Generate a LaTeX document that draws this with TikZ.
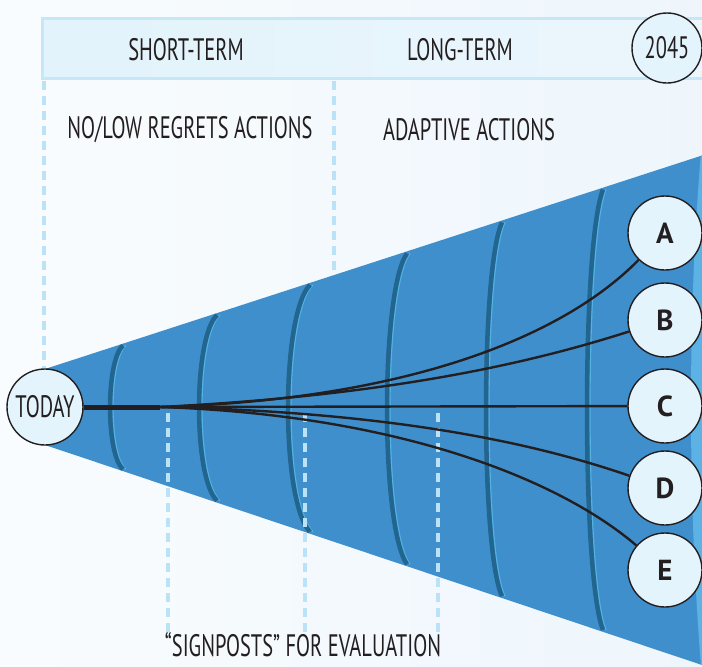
\documentclass[tikz,border=0pt]{standalone}
\usepackage{fontspec}
\setmainfont{PT Sans}[FakeStretch=0.66]
\newfontfamily\lettf{PT Sans}
\definecolor{bgL}{HTML}{F9FCFE}
\definecolor{bgR}{HTML}{EEF6FC}
\definecolor{hdrL}{HTML}{E2F3FB}
\definecolor{hdrR}{HTML}{ECF6FC}
\definecolor{hdrB}{HTML}{C6E7F8}
\definecolor{guidec}{HTML}{BCE2F7}
\definecolor{conec}{HTML}{3F8FCD}
\definecolor{conel}{HTML}{5CB2E4}
\definecolor{ringc}{HTML}{22658F}
\definecolor{ringh}{HTML}{52B3E3}
\definecolor{nodef}{HTML}{E4F4FC}
\definecolor{txt}{HTML}{231F20}
\tikzset{
  lbl/.style={text=txt, font=\fontsize{31}{36}\selectfont, inner sep=0pt},
  circ/.style={circle, draw=txt, line width=1.4pt, fill=nodef, minimum size=#1, inner sep=0pt, text=txt},
  letter/.style={circ=74pt, font=\lettf\bfseries\fontsize{29}{34}\selectfont},
  guide/.style={draw=guidec, line width=3.2pt, dash pattern=on 9pt off 6pt},
  ringline/.style={draw=ringc, line width=4.5pt},
  ringhl/.style={draw=ringh, line width=1.2pt},
  conn/.style={draw=txt, line width=2.4pt},
  bundle/.style={draw=txt, line width=5pt}
}
\begin{document}
\begin{tikzpicture}[x=1pt,y=-1pt]
\useasboundingbox (0,0) rectangle (702,667);
\shade[left color=bgL, right color=bgR] (0,0) rectangle (702,667);
% header bar
\shade[left color=hdrL, right color=hdrR] (42,18) rectangle (702,78);
\draw[hdrB, line width=3pt] (702,18) -- (42,18) -- (42,78) -- (702,78);
\node[lbl] (st) at (186,50) {SHORT-TERM};
\node[lbl] (lt) at (460,50) {LONG-TERM};
\node[circ=70pt, font=\fontsize{31}{36}\selectfont] (y2045) at (667,48) {2045};
\node[lbl] (noreg) at (190,130) {NO/LOW REGRETS ACTIONS};
\node[lbl] (adapt) at (469,130) {ADAPTIVE ACTIONS};
% top guides
\coordinate (g1a) at (44,81); \coordinate (g1b) at (44,368);
\coordinate (g2a) at (334,81); \coordinate (g2b) at (334,274);
\draw[guide] (g1a) -- (g1b);
\draw[guide] (g2a) -- (g2b);
% cone
\def\conepath{(45,369) -- (702,155.5) -- (702,665) -- (45,445) -- cycle}
\fill[conec] \conepath;
\begin{scope}
\clip \conepath;
\fill[conel] (703,130) .. controls (687,300) and (687,510) .. (703,690) -- cycle;
\end{scope}
% rings
\foreach \xt/\rx in {123/13, 217/18, 310/22, 407/20, 502/16, 603/16}{
  \pgfmathsetmacro{\yt}{369-(\xt-45)*0.325+2}
  \pgfmathsetmacro{\yb}{445+(\xt-45)*0.335-2}
  \pgfmathsetmacro{\xc}{\xt-1.333*\rx}
  \pgfmathsetmacro{\ct}{\yt+0.12*(\yb-\yt)}
  \pgfmathsetmacro{\cb}{\yb-0.12*(\yb-\yt)}
  \draw[ringhl] (\xt+3,\yt) .. controls (\xc+3,\ct) and (\xc+3,\cb) .. (\xt+3,\yb);
  \draw[ringline] (\xt,\yt) .. controls (\xc,\ct) and (\xc,\cb) .. (\xt,\yb);
}
% signposts
\coordinate (s1a) at (168,413); \coordinate (s1b) at (168,636);
\coordinate (s2a) at (305,413); \coordinate (s2b) at (305,636);
\coordinate (s3a) at (438,413); \coordinate (s3b) at (438,636);
\draw[guide] (s1a) -- (s1b);
\draw[guide] (s2a) -- (s2b);
\draw[guide] (s3a) -- (s3b);
\node[lbl, anchor=base] (sign) at (303,656) {“SIGNPOSTS” FOR EVALUATION};
% nodes
\node[circ=76pt, font=\fontsize{31}{36}\selectfont] (today) at (45,407) {TODAY};
\node[letter] (A) at (665,233) {A};
\node[letter] (B) at (665,320) {B};
\node[letter] (C) at (665,406) {C};
\node[letter] (D) at (665,488) {D};
\node[letter] (E) at (665,570) {E};
% connectors
\coordinate (fan) at (160,407);
\draw[conn] (fan) .. controls (400,400) and (560,340) .. (A);
\draw[conn] (fan) .. controls (400,395) and (540,360) .. (B);
\draw[conn] (fan) -- (C);
\draw[conn] (fan) .. controls (400,412) and (540,445) .. (D);
\draw[conn] (fan) .. controls (400,415) and (560,480) .. (E);
\draw[bundle] (today) -- (fan);
\end{tikzpicture}
\end{document}
